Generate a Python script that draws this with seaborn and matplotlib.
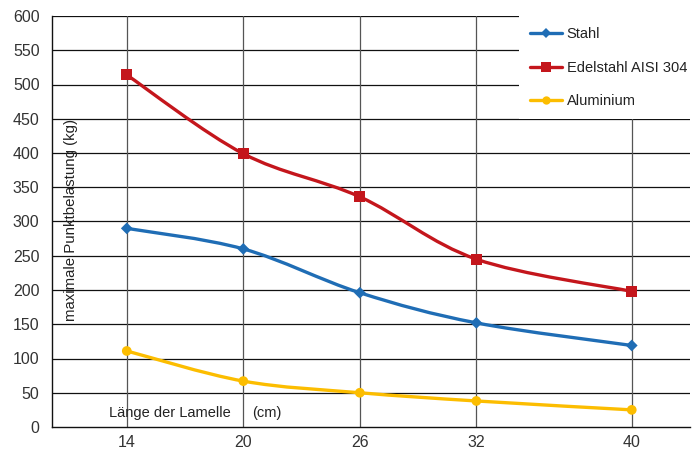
import numpy as np
import pandas as pd
import matplotlib
matplotlib.use("Agg")
import matplotlib.pyplot as plt
from matplotlib.path import Path
from matplotlib.patches import PathPatch
from matplotlib.lines import Line2D
import seaborn as sns

lengths = [14, 20, 26, 32, 40]
stahl = [290, 260, 196, 152, 119]
edelstahl = [514, 399, 336, 245, 198]
aluminium = [111, 67, 50, 38, 25]
series_names = ["Stahl", "Edelstahl AISI 304", "Aluminium"]
y_ticks = list(range(0, 601, 50))

colors = {"Stahl": "#1f6db5", "Edelstahl AISI 304": "#c4161c", "Aluminium": "#fcbd00"}
markers = {"Stahl": "D", "Edelstahl AISI 304": "s", "Aluminium": "o"}
msizes = {"Stahl": 6, "Edelstahl AISI 304": 8, "Aluminium": 7}

df = pd.DataFrame({
    "Länge": lengths * 3,
    "Last": stahl + edelstahl + aluminium,
    "Serie": sum([[n] * len(lengths) for n in series_names], []),
})

sns.set_theme(style="white")
plt.rcParams["font.family"] = ["Liberation Sans", "DejaVu Sans"]

fig = plt.figure(figsize=(6.97, 4.50), dpi=100)
ax = fig.add_axes([52 / 697, 23 / 450, (690 - 52) / 697, (427 - 16) / 450])

ax.set_xlim(10.15, 43.0)
ax.set_ylim(0, 600)
ax.set_yticks(y_ticks)
ax.set_xticks(lengths)
for y in y_ticks[1:]:
    ax.axhline(y, color="#111111", lw=0.9, zorder=1)
for x in lengths:
    ax.axvline(x, color="#555555", lw=0.9, zorder=1)


def smooth_path(xs, ys):
    pts = np.column_stack([xs, ys]).astype(float)
    n = len(pts)
    verts = [pts[0]]
    codes = [Path.MOVETO]
    for i in range(n - 1):
        p0 = pts[i - 1] if i > 0 else pts[i]
        p1 = pts[i]
        p2 = pts[i + 1]
        p3 = pts[i + 2] if i + 2 < n else pts[i + 1]
        c1 = p1 + (p2 - p0) / 6.0
        c2 = p2 - (p3 - p1) / 6.0
        verts += [c1, c2, p2]
        codes += [Path.CURVE4] * 3
    return Path(verts, codes)


for name in series_names:
    sub = df[df["Serie"] == name]
    patch = PathPatch(smooth_path(sub["Länge"].values, sub["Last"].values),
                      facecolor="none", edgecolor=colors[name], lw=2.4,
                      zorder=3, capstyle="round")
    ax.add_patch(patch)
    sns.scatterplot(data=sub, x="Länge", y="Last", ax=ax, color=colors[name],
                    marker=markers[name], s=msizes[name] ** 2, edgecolor="none",
                    linewidth=0, zorder=4, legend=False)

ax.set_xlabel("")
ax.set_ylabel("")
for s in ["top", "right"]:
    ax.spines[s].set_visible(False)
for s in ["left", "bottom"]:
    ax.spines[s].set_visible(True)
    ax.spines[s].set_color("#111111")
    ax.spines[s].set_linewidth(1.0)

ax.tick_params(axis="y", length=2, color="#111111", labelsize=11.5, labelcolor="#333333", pad=7)
ax.tick_params(axis="x", length=0, labelsize=11.5, labelcolor="#333333", pad=6)
ax.set_yticklabels([str(v) for v in y_ticks])
ax.set_xticklabels([str(v) for v in lengths])

ax.text(0.029, 0.504, "maximale Punktbelastung (kg)", transform=ax.transAxes,
        rotation=90, ha="center", va="center", fontsize=10.8, color="#222222")
ax.text(0.09, 0.035, "Länge der Lamelle", transform=ax.transAxes,
        ha="left", va="center", fontsize=10.5, color="#222222")
ax.text(0.314, 0.035, "(cm)", transform=ax.transAxes,
        ha="left", va="center", fontsize=10.5, color="#222222")

handles = [Line2D([0], [0], color=colors[n], lw=2.4, marker=markers[n],
                  markersize=msizes[n] - 1, markeredgewidth=0) for n in series_names]
leg = ax.legend(handles, series_names, loc="upper right", bbox_to_anchor=(1.0125, 1.0),
                frameon=True, fancybox=False, framealpha=1.0, fontsize=10.5,
                handlelength=2.2, handletextpad=0.3, labelspacing=1.35,
                borderpad=0.75, borderaxespad=0.0)
leg.get_frame().set_facecolor("white")
leg.get_frame().set_edgecolor("none")
leg.set_zorder(5)
for t in leg.get_texts():
    t.set_color("#222222")

fig.savefig("out.png", dpi=100)
